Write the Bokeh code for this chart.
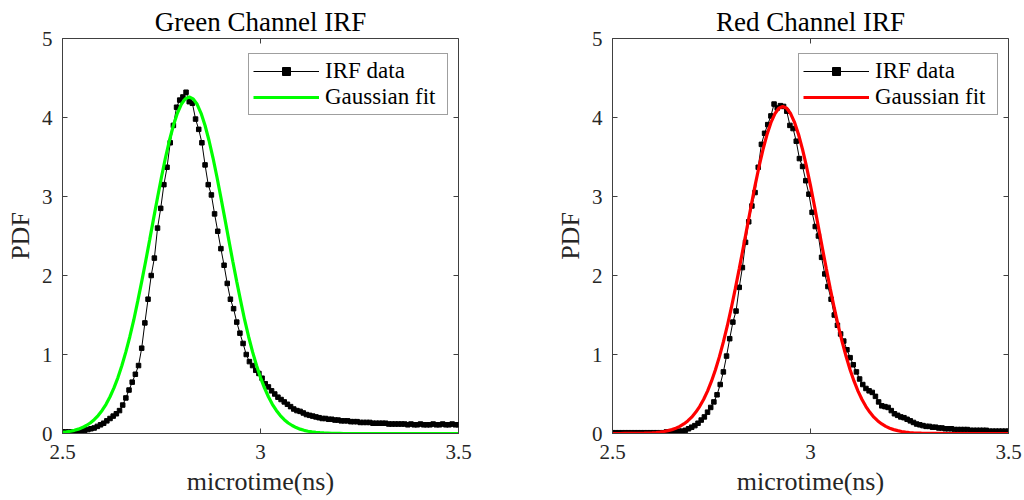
import numpy as np
from bokeh.plotting import figure
from bokeh.layouts import row
from bokeh.models import Range1d, FixedTicker, Legend, LegendItem
from bokeh.embed import file_html
from bokeh.resources import INLINE

# Histogram bins of the instrument response (ns): 2.500, 2.508, ... 3.500
bin_start = 2.5
bin_width = 0.008
n_bins = 126

# Normalised IRF histograms (PDF)
green_irf = [
    0.02, 0.02, 0.02, 0.02, 0.02, 0.03, 0.03, 0.04, 0.05, 0.06,
    0.07, 0.09, 0.11, 0.13, 0.16, 0.19, 0.22, 0.25, 0.29, 0.36,
    0.45, 0.55, 0.65, 0.75, 0.86, 1.08, 1.40, 1.70, 2.00, 2.22,
    2.60, 2.85, 3.15, 3.37, 3.68, 3.90, 4.13, 4.22, 4.26, 4.32,
    4.20, 4.18, 3.98, 3.85, 3.68, 3.40, 3.15, 3.02, 2.78, 2.56,
    2.34, 2.13, 1.90, 1.70, 1.58, 1.41, 1.27, 1.14, 1.00, 0.91,
    0.86, 0.80, 0.76, 0.70, 0.63, 0.59, 0.54, 0.50, 0.46, 0.43,
    0.40, 0.37, 0.34, 0.31, 0.29, 0.28, 0.26, 0.24, 0.23, 0.22,
    0.21, 0.20, 0.19, 0.19, 0.18, 0.18, 0.17, 0.17, 0.16, 0.16,
    0.16, 0.15, 0.15, 0.15, 0.14, 0.14, 0.14, 0.14, 0.13, 0.13,
    0.13, 0.13, 0.13, 0.12, 0.12, 0.12, 0.12, 0.12, 0.12, 0.11,
    0.12, 0.11, 0.11, 0.12, 0.11, 0.11, 0.11, 0.12, 0.11, 0.11,
    0.12, 0.11, 0.11, 0.12, 0.11, 0.11,
]
red_irf = [
    0.01, 0.01, 0.01, 0.01, 0.01, 0.01, 0.01, 0.01, 0.01, 0.01,
    0.01, 0.01, 0.01, 0.01, 0.01, 0.01, 0.01, 0.02, 0.02, 0.02,
    0.02, 0.03, 0.03, 0.04, 0.06, 0.08, 0.10, 0.13, 0.17, 0.21,
    0.27, 0.33, 0.40, 0.49, 0.62, 0.78, 0.98, 1.20, 1.41, 1.55,
    1.85, 2.10, 2.42, 2.68, 2.88, 3.05, 3.37, 3.66, 3.80, 3.91,
    4.02, 4.17, 4.12, 4.15, 4.14, 4.08, 3.90, 3.86, 3.70, 3.48,
    3.38, 3.20, 3.03, 2.80, 2.62, 2.50, 2.23, 2.02, 1.86, 1.70,
    1.50, 1.37, 1.26, 1.17, 1.06, 0.96, 0.87, 0.78, 0.69, 0.62,
    0.57, 0.54, 0.52, 0.47, 0.40, 0.35, 0.34, 0.33, 0.29, 0.25,
    0.23, 0.21, 0.20, 0.18, 0.16, 0.14, 0.12, 0.11, 0.10, 0.09,
    0.09, 0.08, 0.08, 0.07, 0.07, 0.06, 0.06, 0.06, 0.05, 0.05,
    0.05, 0.05, 0.05, 0.04, 0.04, 0.04, 0.04, 0.04, 0.04, 0.03,
    0.03, 0.03, 0.03, 0.03, 0.03, 0.03,
]

# Gaussian fits sampled every 0.01 ns from 2.50 to 3.50
fit_start = 2.5
fit_step = 0.01
green_fit = [
    0.015, 0.021, 0.029, 0.040, 0.055, 0.075, 0.101, 0.133, 0.175, 0.227,
    0.292, 0.370, 0.465, 0.577, 0.708, 0.860, 1.033, 1.225, 1.437, 1.675,
    1.923, 2.180, 2.448, 2.720, 2.988, 3.247, 3.490, 3.709, 3.899, 4.053,
    4.167, 4.236, 4.260, 4.236, 4.167, 4.053, 3.899, 3.709, 3.490, 3.247,
    2.988, 2.720, 2.448, 2.180, 1.923, 1.675, 1.437, 1.225, 1.033, 0.860,
    0.708, 0.577, 0.465, 0.370, 0.292, 0.227, 0.175, 0.133, 0.101, 0.075,
    0.055, 0.040, 0.029, 0.021, 0.015, 0.010, 0.007, 0.005, 0.003, 0.002,
    0.001, 0.0, 0.0, 0.0, 0.0, 0.0, 0.0, 0.0, 0.0, 0.0,
    0.0, 0.0, 0.0, 0.0, 0.0, 0.0, 0.0, 0.0, 0.0, 0.0,
    0.0, 0.0, 0.0, 0.0, 0.0, 0.0, 0.0, 0.0, 0.0, 0.0,
    0.0,
]
red_fit = [
    0.0, 0.0, 0.0, 0.001, 0.001, 0.001, 0.002, 0.003, 0.004, 0.006,
    0.009, 0.013, 0.018, 0.025, 0.036, 0.049, 0.067, 0.090, 0.121, 0.159,
    0.207, 0.268, 0.341, 0.431, 0.537, 0.662, 0.807, 0.973, 1.159, 1.364,
    1.589, 1.830, 2.084, 2.347, 2.613, 2.880, 3.137, 3.377, 3.594, 3.782,
    3.935, 4.047, 4.117, 4.140, 4.117, 4.047, 3.935, 3.782, 3.594, 3.377,
    3.137, 2.880, 2.613, 2.347, 2.084, 1.830, 1.589, 1.364, 1.159, 0.973,
    0.807, 0.662, 0.537, 0.431, 0.341, 0.268, 0.207, 0.159, 0.121, 0.090,
    0.067, 0.049, 0.036, 0.025, 0.018, 0.013, 0.009, 0.006, 0.004, 0.003,
    0.002, 0.001, 0.001, 0.001, 0.0, 0.0, 0.0, 0.0, 0.0, 0.0,
    0.0, 0.0, 0.0, 0.0, 0.0, 0.0, 0.0, 0.0, 0.0, 0.0,
    0.0,
]

x_ticks = [2.5, 3.0, 3.5]
x_tick_labels = {2.5: "2.5", 3.0: "3", 3.5: "3.5"}
y_ticks = [0, 1, 2, 3, 4, 5]
x_lo, x_hi = 2.5, 3.5
y_lo, y_hi = 0, 5

bins = np.round(bin_start + bin_width * np.arange(n_bins), 3)
fit_grid = np.round(fit_start + fit_step * np.arange(len(green_fit)), 3)

SERIF = "'Liberation Serif', 'DejaVu Serif', serif"
AXIS_COLOR = "#404040"
TEXT_COLOR = "#262626"


def style_axis(ax, ticks):
    ax.ticker = FixedTicker(ticks=ticks)
    ax.axis_line_color = AXIS_COLOR
    ax.major_tick_line_color = AXIS_COLOR
    ax.major_tick_in = 5
    ax.major_tick_out = 0
    ax.minor_tick_line_color = None
    ax.major_label_text_font = SERIF
    ax.major_label_text_font_size = "21px"
    ax.major_label_text_color = TEXT_COLOR
    ax.axis_label_text_font = SERIF
    ax.axis_label_text_font_size = "26px"
    ax.axis_label_text_font_style = "normal"
    ax.axis_label_text_color = TEXT_COLOR


def make_panel(title, irf, fit, fit_color, border_left, border_right):
    p = figure(
        width=512, height=500,
        x_range=Range1d(x_lo, x_hi), y_range=Range1d(y_lo, y_hi),
        output_backend="svg", toolbar_location=None,
        min_border_left=border_left, min_border_right=border_right,
        min_border_top=38, min_border_bottom=67,
        background_fill_color="white", border_fill_color="white",
    )
    p.grid.visible = False
    p.outline_line_color = AXIS_COLOR

    p.title.text = title
    p.title.text_font = SERIF
    p.title.text_font_size = "27px"
    p.title.text_font_style = "normal"
    p.title.text_color = "black"
    p.title.align = "center"
    p.title.vertical_align = "top"
    p.title.standoff = 0

    xa = p.xaxis[0]
    style_axis(xa, x_ticks)
    xa.major_label_overrides = x_tick_labels
    xa.major_label_standoff = 11
    xa.axis_label = "microtime(ns)"
    xa.axis_label_standoff = 5

    ya = p.yaxis[0]
    style_axis(ya, y_ticks)
    ya.major_label_standoff = 10
    ya.axis_label = "PDF"
    ya.axis_label_standoff = 4

    # inward ticks along the top and right edges of the box
    p.scatter(x_ticks, [y_hi] * len(x_ticks), marker="dash", angle=np.pi / 2,
              size=10, line_color=AXIS_COLOR, line_width=1)
    p.scatter([x_hi] * len(y_ticks), y_ticks, marker="dash",
              size=10, line_color=AXIS_COLOR, line_width=1)

    data_line = p.line(bins, irf, line_color="black", line_width=1)
    data_pts = p.scatter(bins, irf, marker="square", size=4.5,
                         fill_color="black", line_color="black")
    fit_line = p.line(fit_grid, fit, line_color=fit_color, line_width=3.2)

    legend = Legend(
        items=[
            LegendItem(label="IRF data", renderers=[data_line, data_pts]),
            LegendItem(label="Gaussian fit", renderers=[fit_line]),
        ],
        location=(186, 318),
        label_text_font=SERIF,
        label_text_font_size="23px",
        label_text_color="black",
        label_standoff=6,
        label_height=20,
        label_width=118,
        glyph_width=66,
        glyph_height=20,
        padding=4,
        spacing=0,
        margin=0,
        border_line_color=AXIS_COLOR,
        border_line_width=1,
        background_fill_color="white",
        background_fill_alpha=1.0,
    )
    p.add_layout(legend)
    return p


left = make_panel("Green Channel IRF", green_irf, green_fit, "#00ff00", 62, 54)
right_p = make_panel("Red Channel IRF", red_irf, red_fit, "#ff0000", 100, 16)

layout = row(left, right_p)
open("out.html", "w").write(file_html(layout, INLINE))
